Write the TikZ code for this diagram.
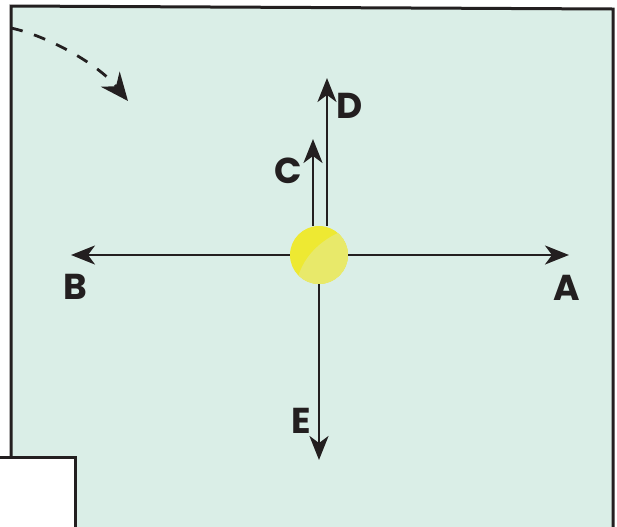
\documentclass[tikz,border=0pt]{standalone}
\usepackage{fontspec}
\setmainfont{Poppins}
\usetikzlibrary{arrows.meta,positioning}
\definecolor{PanelMint}{RGB}{218,238,231}
\definecolor{InkBlack}{RGB}{35,31,32}
\definecolor{BallYellow}{RGB}{238,233,50}
\definecolor{BallLight}{RGB}{232,233,106}
\tikzset{
  panel/.style={fill=PanelMint, draw=InkBlack, line width=1.5pt},
  vec/.style={draw=InkBlack, line width=1.1pt, -{Stealth[length=12pt,width=9.5pt,inset=3.5pt]}},
  swing/.style={draw=InkBlack, line width=1.4pt, dash pattern=on 6pt off 6pt, -{Stealth[length=14pt,width=12pt,inset=4.5pt]}},
  tag/.style={text=InkBlack, font=\fontsize{18}{20}\selectfont\bfseries, inner sep=0pt},
}

\begin{document}
\begin{tikzpicture}[x=0.5pt,y=-0.5pt]
    \useasboundingbox (0,0) rectangle (617,526);
    \clip (0,0) rectangle (617,526);
    % panel and the cut-out corner
    \path[panel] (11,6) -- (613,9) -- (613,540) -- (11,540) -- cycle;
    \path[fill=white, draw=InkBlack, line width=1.5pt] (-10,457) rectangle (75,540);

    % the ball
    \node[circle, fill=BallYellow, minimum size=29pt, inner sep=0pt] (ball) at (319,255) {};
    \begin{scope}
        \clip (ball.center) circle[radius=14.5pt];
        \fill[BallLight] (340,232) .. controls (322,240) and (306,254) .. (299,274) -- (300,300) -- (360,300) -- (360,220) -- cycle;
    \end{scope}

    \coordinate (tipA) at (569,255);
    \coordinate (tipB) at (71,255);
    \coordinate (tipC) at (313,139);
    \coordinate (tipD) at (327,78);
    \coordinate (tipE) at (319,460);
    \draw[vec] (ball.east) -- (tipA);
    \draw[vec] (ball.west) -- (tipB);
    \draw[vec] (ball.north -| tipC) -- (tipC);
    \draw[vec] (ball.north -| tipD) -- (tipD);
    \draw[vec] (ball.south) -- (tipE);

    \node[tag] (labA) at (567,288) {A};
    \node[tag] (labB) at (75,287) {B};
    \node[tag] (labC) at (288,171) {C};
    \node[tag] (labD) at (350,106) {D};
    \node[tag] (labE) at (301,421) {E};

    % rotation hint
    \coordinate (swingStart) at (11,28);
    \coordinate (swingEnd) at (128,101);
    \draw[swing] (swingStart) .. controls (48,36) and (98,64) .. (swingEnd);
\end{tikzpicture}
\end{document}
